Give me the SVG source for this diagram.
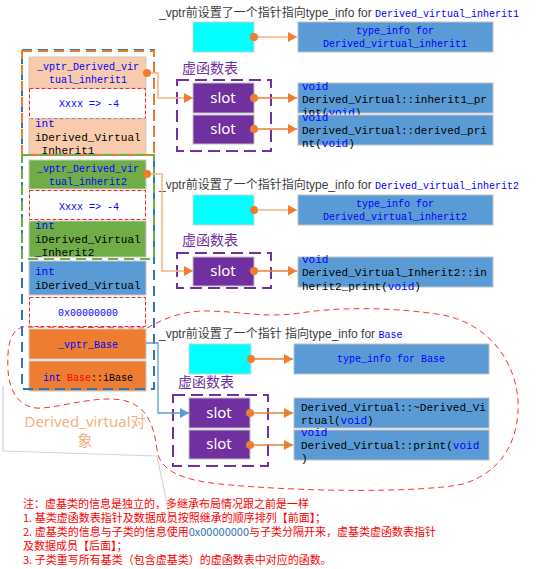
<svg xmlns="http://www.w3.org/2000/svg" width="553" height="569" viewBox="0 0 553 569">
<style>
.mono{font-family:"Liberation Mono","DejaVu Sans Mono",monospace;font-size:10px}
.m11{font-size:11px}
.kw{fill:#0000FF}
.red{fill:#FF0000}
.blk{fill:#000000}
.cap{font-family:"Liberation Sans","Noto Sans CJK SC",sans-serif;font-size:12px;fill:#404040}
.vt{font-family:"Noto Sans CJK SC","Noto Sans",sans-serif;font-size:14px;fill:#7030A0}
.slot{font-family:"Noto Sans","Noto Sans CJK SC",sans-serif;font-size:15px;fill:#FFFFFF;text-anchor:middle}
.note{font-family:"Noto Sans CJK SC","Liberation Sans",sans-serif;font-size:11px;fill:#FF0000}
.cell{stroke:#C8C8C8;stroke-width:1}
.peach{fill:#F8CBAD}
.green{fill:#70AD47}
.blue{fill:#5B9BD5}
.orange{fill:#ED7D31}
.white{fill:#FFFFFF;stroke:#FF2020;stroke-width:1;stroke-dasharray:4 2}
.cyan{fill:#00FFFF;stroke:#D0D0D0;stroke-width:1}
.pslot{fill:#7030A0;stroke:#BFBFBF;stroke-width:1}
.fbox{fill:#5B9BD5;stroke:#C0C0C0;stroke-width:1}
.pdash{fill:none;stroke:#7030A0;stroke-width:2;stroke-dasharray:12 6}
.mid{text-anchor:middle}
.dot{fill:#ED7D31}
.ln{fill:none;stroke:#ED7D31;stroke-width:1.3}
.lp{fill:none;stroke:#F4B183;stroke-width:1.5}
.lb{fill:none;stroke:#5B9BD5;stroke-width:1.3}
</style>
<defs>
<marker id="ao" markerUnits="userSpaceOnUse" markerWidth="9" markerHeight="10" refX="9" refY="5" orient="auto"><path d="M0,0 L9,5 L0,10 z" fill="#ED7D31"/></marker>
<marker id="ab" markerUnits="userSpaceOnUse" markerWidth="9" markerHeight="10" refX="9" refY="5" orient="auto"><path d="M0,0 L9,5 L0,10 z" fill="#5B9BD5"/></marker>
</defs>
<rect width="553" height="569" fill="#FFFFFF"/>

<!-- background shapes -->
<g id="callout">
<polyline points="3,386 3,451 157,456 172,528" fill="none" stroke="#D4D4D8" stroke-width="1.2"/>
</g>
<g id="cloud">
<path d="M147,328 C165,318 185,310 210,311 C245,312 265,318 300,313 C345,306 400,308 443,315 C488,324 515,360 518,400 C520,440 502,472 463,484 C420,493 300,492 220,484 C180,480 160,470 157,450 C154,425 147,405 122,400 C97,396 70,405 43,408 C20,410 9,392 8,370 C7,348 9,332 22,327 L147,328" fill="none" stroke="#FF3030" stroke-width="1" stroke-dasharray="6 4"/>
</g>

<!-- object layout -->
<g id="obj_Derived_virtual">
<g id="cell_vptr_inherit1">
<rect class="cell peach" x="29" y="57" width="117" height="31"/>
<text class="mono kw mid" x="88" y="70">_vptr_Derived_vir</text>
<text class="mono kw mid" x="88" y="83">tual_inherit1</text>
</g>
<g id="cell_xxxx1">
<rect class="white" x="29.5" y="88.5" width="116" height="30"/>
<text class="mono kw mid" x="89" y="107">Xxxx =&gt; -4</text>
</g>
<g id="cell_int_inherit1">
<rect class="cell peach" x="29" y="119" width="117" height="35"/>
<text class="mono m11" x="35" y="127"><tspan class="kw">int</tspan></text>
<text class="mono m11 blk" x="35" y="141">iDerived_Virtual</text>
<text class="mono m11 blk" x="35" y="154">_Inherit1</text>
</g>
<g id="cell_vptr_inherit2">
<rect class="cell green" x="29" y="160" width="117" height="29"/>
<text class="mono kw mid" x="88" y="172">_vptr_Derived_vir</text>
<text class="mono kw mid" x="88" y="185">tual_inherit2</text>
</g>
<g id="cell_xxxx2">
<rect class="white" x="29.5" y="190.5" width="116" height="29"/>
<text class="mono kw mid" x="89" y="210">Xxxx =&gt; -4</text>
</g>
<g id="cell_int_inherit2">
<rect class="cell green" x="29" y="221" width="117" height="36"/>
<text class="mono m11 kw" x="35" y="229">int</text>
<text class="mono m11 blk" x="35" y="243">iDerived_Virtual</text>
<text class="mono m11 blk" x="35" y="256">_Inherit2</text>
</g>
<g id="cell_int_derived">
<rect class="cell blue" x="29" y="261" width="117" height="34"/>
<text class="mono m11 kw" x="35" y="275">int</text>
<text class="mono m11 blk" x="35" y="289">iDerived_Virtual</text>
</g>
<g id="cell_separator">
<rect class="white" x="29.5" y="297.5" width="116" height="29"/>
<text class="mono kw mid" x="88" y="316">0x00000000</text>
</g>
<g id="cell_vptr_base">
<rect class="cell orange" x="29" y="329" width="117" height="30"/>
<text class="mono kw mid" x="88" y="348">_vptr_Base</text>
</g>
<g id="cell_int_base">
<rect class="cell orange" x="29" y="361" width="117" height="30"/>
<text class="mono mid" x="88" y="381"><tspan class="kw">int</tspan> <tspan class="red">Base</tspan><tspan class="blk">::iBase</tspan></text>
</g>
<rect x="22" y="50" width="132" height="339" fill="none" stroke="#2E75B6" stroke-width="2" stroke-dasharray="10 6"/>
<rect x="22" y="51" width="132" height="104" fill="none" stroke="#ED7D31" stroke-width="2" stroke-dasharray="10 6"/>
<rect x="22" y="155" width="132" height="104" fill="none" stroke="#70AD47" stroke-width="2" stroke-dasharray="10 6"/>
</g>
<g id="label_object">
<text x="85" y="427" text-anchor="middle" font-family="Noto Sans,Noto Sans CJK SC,sans-serif" font-size="15" fill="#F4B183">Derived_virtual对</text>
<text x="85" y="446" text-anchor="middle" font-family="Noto Sans CJK SC,sans-serif" font-size="15" fill="#F4B183">象</text>
</g>

<!-- section 1 -->
<g id="section_inherit1">
<text class="cap" x="159" y="17">_vptr前设置了一个指针指向type_info for <tspan class="mono kw">Derived_virtual_inherit1</tspan></text>
<rect id="cyan1" class="cyan" x="193" y="22" width="61" height="30"/>
<g id="typeinfo1"><rect class="fbox" x="298" y="22" width="195" height="30"/>
<text class="mono kw mid" x="395" y="34">type_info for</text>
<text class="mono kw mid" x="395" y="47">Derived_virtual_inherit1</text></g>
<text class="vt" x="182" y="73">虚函数表</text>
<rect class="pdash" x="177" y="80" width="94" height="71"/>
<g id="slot1a"><rect class="pslot" x="193" y="83" width="61" height="30"/><text class="slot" x="223" y="103">slot</text></g>
<g id="slot1b"><rect class="pslot" x="193" y="115" width="61" height="29"/><text class="slot" x="223" y="134">slot</text></g>
<g id="func1a"><rect class="fbox" x="298" y="83" width="195" height="30"/>
<text class="mono m11 kw" x="302" y="90">void</text>
<text class="mono m11 blk" x="302" y="103">Derived_Virtual::inherit1_pr</text>
<text class="mono m11 blk" x="302" y="116">int(<tspan class="kw">void</tspan>)</text></g>
<g id="func1b"><rect class="fbox" x="298" y="115" width="195" height="30"/>
<text class="mono m11 kw" x="302" y="121">void</text>
<text class="mono m11 blk" x="302" y="134">Derived_Virtual::derived_pri</text>
<text class="mono m11 blk" x="302" y="147">nt(<tspan class="kw">void</tspan>)</text></g>
</g>

<!-- section 2 -->
<g id="section_inherit2">
<text class="cap" x="159" y="189">_vptr前设置了一个指针指向type_info for <tspan class="mono kw">Derived_virtual_inherit2</tspan></text>
<rect id="cyan2" class="cyan" x="193" y="195" width="61" height="30"/>
<g id="typeinfo2"><rect class="fbox" x="298" y="195" width="195" height="30"/>
<text class="mono kw mid" x="395" y="207">type_info for</text>
<text class="mono kw mid" x="395" y="220">Derived_virtual_inherit2</text></g>
<text class="vt" x="182" y="245">虚函数表</text>
<rect class="pdash" x="177" y="253" width="94" height="35"/>
<g id="slot2a"><rect class="pslot" x="193" y="257" width="61" height="29"/><text class="slot" x="223" y="276">slot</text></g>
<g id="func2a"><rect class="fbox" x="298" y="257" width="195" height="30"/>
<text class="mono m11 kw" x="302" y="263">void</text>
<text class="mono m11 blk" x="302" y="276">Derived_Virtual_Inherit2::in</text>
<text class="mono m11 blk" x="302" y="290">herit2_print(<tspan class="kw">void</tspan>)</text></g>
</g>

<!-- section 3 -->
<g id="section_base">
<text class="cap" x="159" y="338">_vptr前设置了一个指针 指向type_info for <tspan class="mono kw">Base</tspan></text>
<rect id="cyan3" class="cyan" x="189" y="344" width="62" height="30"/>
<g id="typeinfo3"><rect class="fbox" x="294" y="344" width="195" height="30"/>
<text class="mono kw mid" x="391" y="362">type_info for Base</text></g>
<text class="vt" x="178" y="387">虚函数表</text>
<rect class="pdash" x="173" y="395" width="95" height="71"/>
<g id="slot3a"><rect class="pslot" x="189" y="398" width="61" height="30"/><text class="slot" x="219" y="418">slot</text></g>
<g id="slot3b"><rect class="pslot" x="189" y="430" width="61" height="29"/><text class="slot" x="219" y="449">slot</text></g>
<g id="func3a"><rect class="fbox" x="294" y="398" width="195" height="30"/>
<text class="mono m11 blk" x="301" y="411">Derived_Virtual::~Derived_Vi</text>
<text class="mono m11 blk" x="301" y="424">rtual(<tspan class="kw">void</tspan>)</text></g>
<g id="func3b"><rect class="fbox" x="294" y="430" width="195" height="30"/>
<text class="mono m11 kw" x="301" y="436">void</text>
<text class="mono m11 blk" x="301" y="449">Derived_Virtual::print(<tspan class="kw">void</tspan></text>
<text class="mono m11 blk" x="301" y="462">)</text></g>
</g>

<!-- connectors -->
<g id="connectors">
<polyline class="lp" points="147,73 158,73 158,98 193,98" marker-end="url(#ao)"/>
<polyline class="lp" points="147,174 162,174 162,271 193,271" marker-end="url(#ao)"/>
<polyline class="lb" points="146,343 158,343 158,413 189,413" marker-end="url(#ab)"/>
<line class="lp" x1="254" y1="37" x2="297" y2="37" marker-end="url(#ao)"/>
<line class="ln" x1="254" y1="98" x2="297" y2="98" marker-end="url(#ao)"/>
<line class="ln" x1="254" y1="129" x2="297" y2="129" marker-end="url(#ao)"/>
<line class="lp" x1="254" y1="210" x2="297" y2="210" marker-end="url(#ao)"/>
<line class="ln" x1="254" y1="271" x2="297" y2="271" marker-end="url(#ao)"/>
<line class="ln" x1="251" y1="359" x2="293" y2="359" marker-end="url(#ao)"/>
<line class="ln" x1="250" y1="413" x2="293" y2="413" marker-end="url(#ao)"/>
<line class="ln" x1="250" y1="445" x2="293" y2="445" marker-end="url(#ao)"/>
<circle class="dot" cx="147" cy="73" r="4"/>
<circle class="dot" cx="147" cy="174" r="4"/>
<circle class="dot" cx="254" cy="37" r="4"/>
<circle class="dot" cx="254" cy="98" r="4"/>
<circle class="dot" cx="254" cy="129" r="4"/>
<circle class="dot" cx="254" cy="210" r="4"/>
<circle class="dot" cx="254" cy="271" r="4"/>
<circle class="dot" cx="251" cy="359" r="4"/>
<circle class="dot" cx="250" cy="413" r="4"/>
<circle class="dot" cx="250" cy="445" r="4"/>
</g>

<!-- notes -->
<g id="notes">
<text class="note" x="23" y="508">注：虚基类的信息是独立的，多继承布局情况跟之前是一样</text>
<text class="note" x="23" y="522">1. 基类虚函数表指针及数据成员按照继承的顺序排列【前面】；</text>
<text class="note" x="23" y="536">2. 虚基类的信息与子类的信息使用<tspan fill="#2E75B6">0x00000000</tspan>与子类分隔开来，虚基类虚函数表指针</text>
<text class="note" x="23" y="550">及数据成员【后面】；</text>
<text class="note" x="23" y="564">3. 子类重写所有基类（包含虚基类）的虚函数表中对应的函数。</text>
</g>
</svg>
